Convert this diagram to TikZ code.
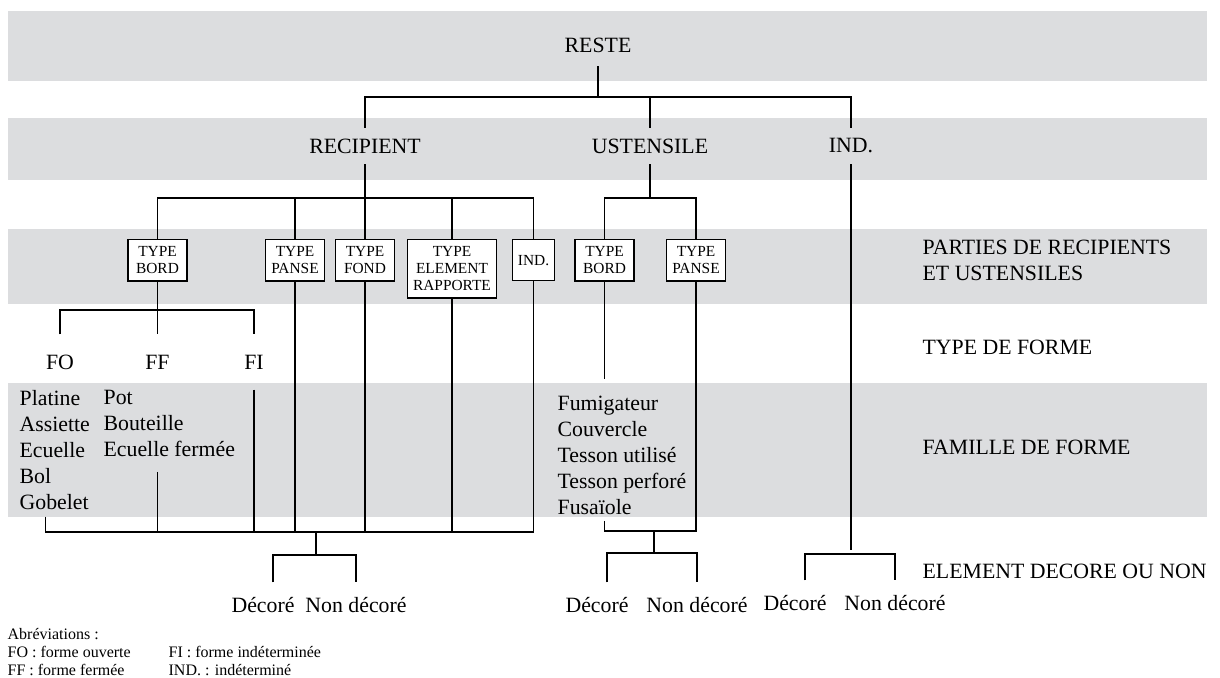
\documentclass[tikz,border=0pt]{standalone}
\usepackage{fontspec}
\setmainfont{Liberation Serif}
\usepackage{tikz}
\usetikzlibrary{positioning}

\definecolor{bandgray}{RGB}{220,221,223}

\begin{document}
\begin{tikzpicture}[
	x=0.5pt, y=-0.5pt, line width=0.65pt,
	band/.style   = {fill=bandgray, draw=none},
	basic/.style  = {inner sep=0pt, font=\fontsize{10.9}{13}\selectfont},
	root/.style   = {basic, minimum height=20.5pt},
	branch/.style = {basic, minimum height=17.5pt},
	partbox/.style = {draw, fill=white, align=center, anchor=north, inner xsep=2.8pt, inner ysep=3.5pt, minimum width=29.5pt, font=\fontsize{7.7}{8.5}\selectfont},
	forme/.style  = {basic, minimum height=27pt},
	famille/.style = {basic, align=left, anchor=north west, inner ysep=3pt},
	leaf/.style   = {basic, minimum height=22pt},
	rowlabel/.style = {basic, align=left, anchor=west},
	abbr/.style   = {inner sep=0pt, align=left, anchor=north west, font=\fontsize{8}{9}\selectfont}]
	
	\useasboundingbox (0,0) rectangle (1220,677);
	
	\fill[band] (8,11) rectangle (1207,81);
	\fill[band] (8,118) rectangle (1207,180);
	\fill[band] (8,229) rectangle (1207,304);
	\fill[band] (8,383) rectangle (1207,517);
	
	\node[root] (reste) at (598,45) {RESTE};
	
	\node[branch] (recip) at (365,146) {RECIPIENT};
	\node[branch] (usten) at (650,146) {USTENSILE};
	\node[branch] (indA) at (851,146) {IND.};
	
	\node[partbox] (bordR) at (157.5,239) {TYPE\\BORD};
	\node[partbox] (panseR) at (295,239) {TYPE\\PANSE};
	\node[partbox] (fondR) at (365,239) {TYPE\\FOND};
	\node[partbox] (elemR) at (452,239) {TYPE\\ELEMENT\\RAPPORTE};
	\node[partbox, minimum width=0pt, minimum height=20.5pt] (indR) at (533.5,239) {IND.};
	\node[partbox] (bordU) at (604.5,239) {TYPE\\BORD};
	\node[partbox] (panseU) at (696,239) {TYPE\\PANSE};
	
	\node[forme] (fo) at (60,362) {FO};
	\node[forme] (ff) at (157.5,362) {FF};
	\node[forme] (fi) at (254,362) {FI};
	
	\node[famille] (famfo) at (19,384) {Platine\\Assiette\\Ecuelle\\Bol\\Gobelet};
	\node[famille] (famff) at (103,384) {Pot\\Bouteille\\Ecuelle fermée};
	\node[famille] (famU) at (557,389) {Fumigateur\\Couvercle\\Tesson utilisé\\Tesson perforé\\Fusaïole};
	
	\node[leaf] (dec1) at (263,605) {Décoré};
	\node[leaf] (non1) at (356,605) {Non décoré};
	\node[leaf] (dec2) at (597,605) {Décoré};
	\node[leaf] (non2) at (697,605) {Non décoré};
	\node[leaf] (dec3) at (795,603) {Décoré};
	\node[leaf] (non3) at (895,603) {Non décoré};
	
	\node[rowlabel] (parties) at (922,260.5) {PARTIES DE RECIPIENTS\\ET USTENSILES};
	\node[rowlabel] (typeforme) at (922,347) {TYPE DE FORME};
	\node[rowlabel] (famforme) at (922,447) {FAMILLE DE FORME};
	\node[rowlabel] (elemdec) at (922,571) {ELEMENT DECORE OU NON};
	
	\node[abbr] (abbrA) at (7,628) {Abréviations :\\FO : forme ouverte\\FF : forme fermée};
	\node[abbr] (abbrB) at (168,646) {FI : forme indéterminée\\IND. : indéterminé};
	
	\coordinate (tbar) at (598,97);
	\coordinate (rbar) at (365,198);
	\coordinate (ubar) at (650,198);
	\coordinate (fbar) at (157.5,310);
	\coordinate (dbar) at (316,532);
	\coordinate (ubbar) at (654,531);
	\coordinate (s1) at (316,555);
	\coordinate (s2) at (654,553);
	\coordinate (s3) at (851,554);
	
	\draw (reste.south) -- (tbar);
	\draw (recip.north) |- (tbar) -| (indA.north);
	\draw (usten.north) -- (usten.north |- tbar);
	
	\draw (recip.south) -- (rbar);
	\draw (bordR.north) |- (rbar) -| (indR.north);
	\foreach \n in {panseR,fondR,elemR}
	\draw (\n.north) -- (\n.north |- rbar);
	
	\draw (usten.south) -- (ubar);
	\draw (bordU.north) |- (ubar) -| (panseU.north);
	
	\draw (bordR.south) -- (ff.north);
	\draw (fo.north) |- (fbar) -| (fi.north);
	
	\draw (fi.south) -- (fi |- dbar);
	\draw ([yshift=-4pt]famff.south -| ff) -- (ff |- dbar);
	\foreach \n in {panseR,fondR,elemR}
	\draw (\n.south) -- (\n.south |- dbar);
	\draw ([xshift=-4.5pt]famfo.south) |- (dbar) -| (indR.south);
	\draw (dbar) -- (s1);
	\draw ([xshift=5pt]dec1.north) |- (s1) -| (non1.north);
	
	\draw (bordU.south) -- ++(0,97);
	\draw (famU.south -| bordU) |- (ubbar) -| (panseU.south);
	\draw (ubbar) -- (s2);
	\draw ([xshift=5pt]dec2.north) |- (s2) -| (non2.north);
	
	\draw (indA.south) -- ++(0,386);
	\draw ([xshift=5pt]dec3.north) |- (s3) -| (non3.north);
	
\end{tikzpicture}
\end{document}
